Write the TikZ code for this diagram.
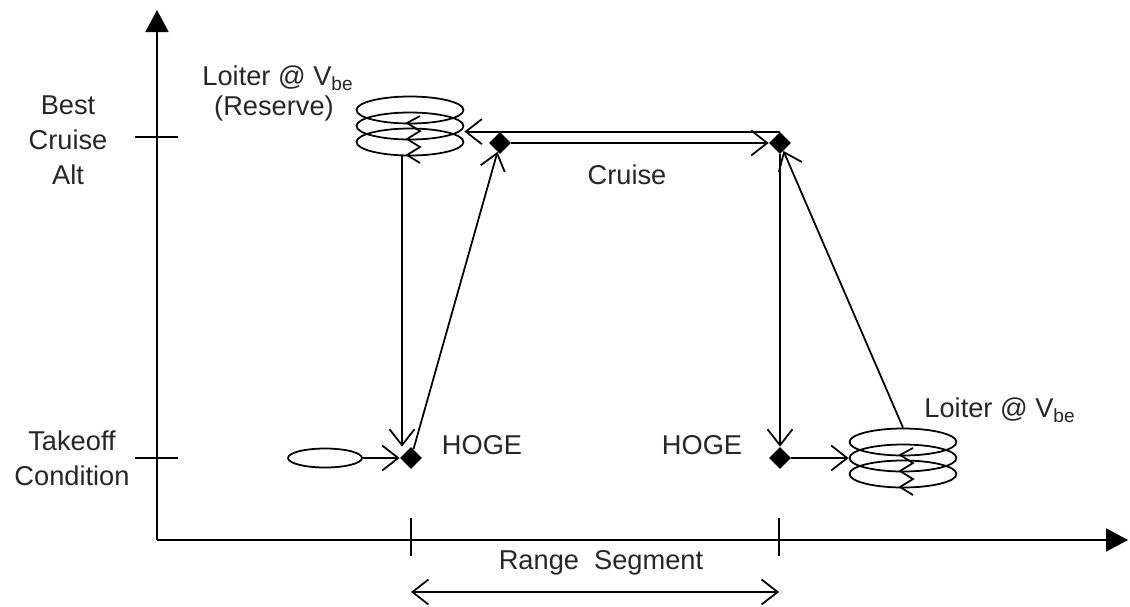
\documentclass[tikz,border=0pt]{standalone}
\usepackage{fontspec}
\setmainfont{Liberation Sans}
\usetikzlibrary{arrows.meta,shapes.geometric,positioning}
\tikzset{
  axis/.style  = {line width=1pt, -{Triangle[length=0.44cm,width=0.46cm]}},
  tick/.style  = {line width=1pt},
  flow/.style  = {line width=1pt},
  point/.style = {diamond, fill=black, inner sep=0pt, minimum size=0.44cm},
  orbit/.style = {ellipse, draw, line width=1pt, inner sep=0pt,
                  minimum width=2.14cm, minimum height=0.54cm},
  txt/.style   = {font=\fontsize{15.5}{20}\selectfont, align=center, text=black!85}
}

\begin{document}
\begin{tikzpicture}[x=0.02cm, y=-0.02cm,
  >={Straight Barb[length=0.32cm,width=0.5cm]}]
\useasboundingbox (0,0) rectangle (1130,606);

% axes and ticks
\draw[axis] (157,540) -- (157,10);
\draw[axis] (157,540) -- (1128,540);
\draw[tick] (135,137) -- (178,137);
\draw[tick] (135,458) -- (178,458);
\draw[tick] (411,518) -- (411,556);
\draw[tick] (779,518) -- (779,556);

\node[txt] (alt) at (68,140) {Best\\Cruise\\Alt};
\node[txt] (toc) at (72,458) {Takeoff\\Condition};

% mission points
\node[point] (A) at (411,458) {};
\node[point] (B) at (780,458) {};
\node[point] (C) at (500,143) {};
\node[point] (D) at (780,143) {};
\node[orbit, minimum width=1.48cm, minimum height=0.38cm] (E) at (325,458) {};

% loiter stacks
\foreach \n/\y in {t/110, m/126, b/142}
  \node[orbit] (L\n) at (410,\y) {};
\foreach \n/\y in {t/442, m/458, b/474}
  \node[orbit] (R\n) at (903,\y) {};

\foreach \s in {Lm, Rm}
  \draw[tick] (\s.center) ++(10,-10) -- ++(-13,7) -- ++(13,8) -- ++(-13,8)
    -- ++(13,8) -- ++(-13,8) -- ++(13,8);

% legs
\draw[flow,->] (E.east) -- (A.west);
\draw[flow,->] (A) -- (C);
\draw[flow,->] (C.east) -- (D.west);
\draw[flow,->] (D.north) -- (D.north -| Lm.east);
\draw[flow,->] (D.south) -- (B.north);
\draw[flow,->] (B.east) -- (Rm.west);
\draw[flow,->] (Rt.north) -- (D);
\draw[flow,->] ([xshift=-0.16cm]Lb.south) -- ([xshift=-0.16cm]Lb.south |- A.north);

\coordinate (r1) at (411,592);
\coordinate (r2) at (779,592);
\draw[flow,<->] (r1) -- (r2);

% labels
\node[txt] (hoge1) at (482,445) {HOGE};
\node[txt] (hoge2) at (702,445) {HOGE};
\node[txt] (cruise) at (627,175) {Cruise};
\node[txt] (range) at (601,563) {Range~~Segment};
\node[txt] (loit1) at (278,78) {Loiter @ V\textsubscript{be}};
\node[txt] (resv) at (274,108) {(Reserve)};
\node[txt] (loit2) at (1000,410) {Loiter @ V\textsubscript{be}};
\end{tikzpicture}
\end{document}
